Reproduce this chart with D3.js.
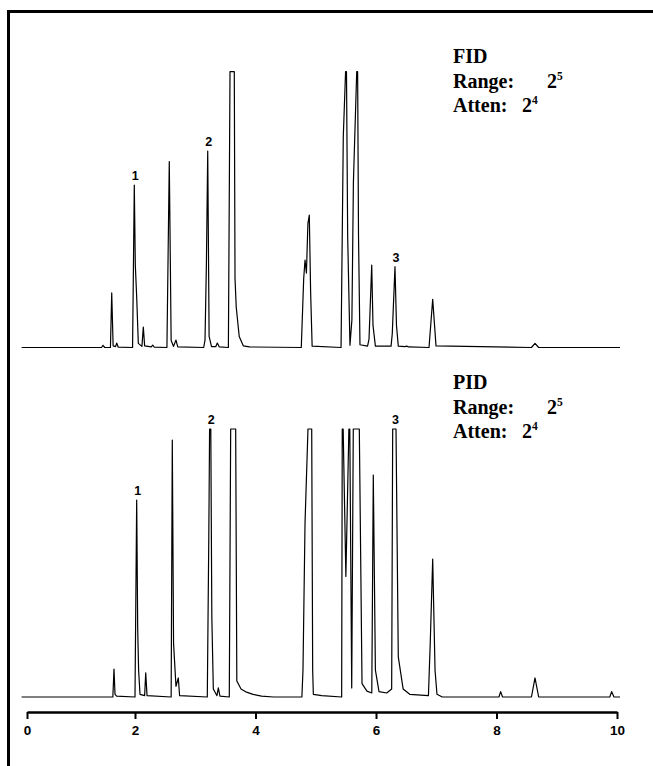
<!DOCTYPE html>
<html><head><meta charset="utf-8">
<script src="https://cdn.jsdelivr.net/npm/d3@7"></script>
<style>html,body{margin:0;padding:0;background:#fff;} svg{display:block;}</style>
</head><body>
<script>
// retention time (min), signal (% of full scale)
const fidTrace = [[-0.1,0],[1.38,0],[1.407,0.8],[1.44,0],[1.545,0],[1.569,19.8],[1.595,0.6],[1.64,0.3],[1.661,1.6],[1.69,0.1],
[1.955,0],[1.987,58.9],[2.005,30],[2.028,18.3],[2.055,1.5],[2.115,0.4],[2.138,7.4],[2.16,0.6],[2.27,0.2],[2.294,0.9],[2.32,0.1],
[2.53,0],[2.569,67.4],[2.6,2.5],[2.64,0.4],[2.68,2.7],[2.71,0.2],[3.14,0],[3.162,2.7],[3.185,30],[3.207,71.2],[3.23,4],[3.27,0.3],
[3.34,0.3],[3.366,1.6],[3.4,0.2],[3.55,0],[3.577,100],[3.648,100],[3.66,25],[3.68,14.7],[3.73,4],[3.797,0.6],[3.9,0.2],
[4.76,0],[4.8,25],[4.822,31.7],[4.845,27],[4.87,45],[4.893,48],[4.915,20],[4.94,0.5],
[5.42,0],[5.457,76.4],[5.495,100],[5.51,100],[5.53,40],[5.568,0.8],[5.6,10],[5.625,60],[5.68,100],[5.695,100],[5.71,40],[5.734,1],
[5.86,0.5],[5.884,3],[5.929,29.9],[5.95,8],[5.99,0.5],[6.25,0.5],[6.27,5],[6.315,29.3],[6.34,8],[6.37,0.5],
[6.48,0.3],[6.51,0.5],[6.54,0.2],[6.88,0],[6.941,17.5],[6.996,0.6],[8.58,0],[8.639,1.5],[8.7,0],[10.05,0]];

const pidTrace = [[-0.1,0],[1.59,0],[1.611,10.4],[1.63,1],[1.66,0.3],[2.0,0],[2.028,73.5],[2.045,25],[2.06,10],[2.083,1],
[2.16,0.5],[2.178,9.0],[2.2,0.5],[2.6,0],[2.619,95.9],[2.64,20],[2.68,4],[2.719,7.1],[2.74,0.5],
[3.2,0],[3.225,60],[3.238,100],[3.258,100],[3.275,30],[3.3,3],[3.36,0.5],[3.383,3.4],[3.41,0.3],
[3.565,0],[3.588,100],[3.671,100],[3.69,6],[3.76,3],[3.85,1.8],[3.96,1],[4.1,0.3],[4.3,0],
[4.77,0],[4.788,10],[4.822,64.9],[4.871,100],[4.933,100],[4.949,10],[4.96,1],[5.1,0.5],
[5.43,0],[5.44,100],[5.455,100],[5.5,45],[5.55,100],[5.565,100],[5.597,3.4],[5.623,100],[5.723,100],[5.768,5],
[5.85,2.2],[5.93,1.5],[5.955,82.8],[5.99,10],[6.05,2],[6.178,1.5],[6.26,3],[6.277,100],[6.332,100],[6.37,15],[6.45,3],[6.56,1],
[6.87,0.5],[6.9,20],[6.941,51.5],[6.98,10],[7.012,1],[7.1,0],[8.04,0],[8.069,2],[8.1,0],[8.58,0],[8.639,7.1],[8.7,0],
[9.88,0],[9.912,2],[9.95,0],[10.05,0]];

const axisTicks = [0,2,4,6,8,10];
const tickLabels = ["0","2","4","6","8","10"];
const peakNames = ["1","2","3"];
const fidPeakTimes = [1.987,3.207,6.315];
const fidPeakHeights = [58.9,71.2,29.3];
const pidPeakTimes = [2.028,3.248,6.305];
const pidPeakHeights = [73.5,100,100];
const detectors = ["FID","PID"];
const rangeExp = ["5","5"];
const attenExp = ["4","4"];

const W = 653, H = 766;
const svg = d3.select("body").append("svg").attr("width",W).attr("height",H)
  .style("background","#fff");

// frame
svg.append("path").attr("d","M8.5,770V11.5H660").attr("fill","none")
  .attr("stroke","#000").attr("stroke-width",3);

const x = d3.scaleLinear().domain([0,2,10]).range([27,135,617]);
const yF = d3.scaleLinear().domain([0,100]).range([347.5,71.7]);
const yP = d3.scaleLinear().domain([0,100]).range([697,429]);
const textTop = [63, 389];

function drawPanel(trace, y, pTimes, pHeights, idx){
  const line = d3.line().x(d=>x(d[0])).y(d=>y(d[1]));
  svg.append("path").datum(trace).attr("d",line).attr("fill","none")
    .attr("stroke","#000").attr("stroke-width",1.2).attr("stroke-linejoin","round");
  svg.append("g").selectAll("text").data(peakNames).join("text")
    .attr("x",(d,i)=>x(pTimes[i])+1).attr("y",(d,i)=>y(pHeights[i])-5)
    .attr("text-anchor","middle").attr("font-family","Liberation Sans, Arial, sans-serif")
    .attr("font-weight","bold").attr("font-size",12.5).text(d=>d);
  const t0 = textTop[idx];
  const g = svg.append("g").attr("font-family","Liberation Serif, Times New Roman, serif")
    .attr("font-weight","bold").attr("font-size",20).attr("fill","#000");
  g.append("text").attr("x",453).attr("y",t0).text(detectors[idx]);
  const r = g.append("text").attr("x",453).attr("y",t0+25);
  r.append("tspan").text("Range:");
  r.append("tspan").attr("x",547).text("2");
  r.append("tspan").attr("dy",-8).attr("font-size",11.5).text(rangeExp[idx]);
  const a = g.append("text").attr("x",453).attr("y",t0+49);
  a.append("tspan").text("Atten:");
  a.append("tspan").attr("x",522).text("2");
  a.append("tspan").attr("dy",-8).attr("font-size",11.5).text(attenExp[idx]);
}
drawPanel(fidTrace, yF, fidPeakTimes, fidPeakHeights, 0);
drawPanel(pidTrace, yP, pidPeakTimes, pidPeakHeights, 1);

const axis = d3.axisBottom(x).tickValues(axisTicks).tickFormat((d,i)=>tickLabels[i])
  .tickSize(7).tickSizeOuter(0).tickPadding(6);
const ax = svg.append("g").attr("transform","translate(0,712)").call(axis);
ax.select(".domain").attr("stroke","#000").attr("stroke-width",2.5);
ax.selectAll(".tick line").attr("stroke","#000").attr("stroke-width",2);
ax.selectAll(".tick text").attr("fill","#000").attr("font-family","Liberation Sans, Arial, sans-serif")
  .attr("font-weight","bold").attr("font-size",13.5);
</script>
</body></html>
